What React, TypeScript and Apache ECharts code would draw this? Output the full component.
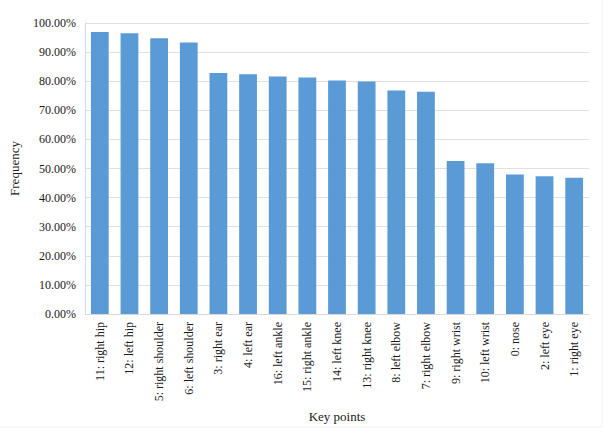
import React, { useEffect, useRef } from "react";
import * as echarts from "echarts";

const categories = [
  "11: right hip", "12: left hip", "5: right shoulder", "6: left shoulder",
  "3: right ear", "4: left ear", "16: left ankle", "15: right ankle",
  "14: left knee", "13: right knee", "8: left elbow", "7: right elbow",
  "9: right wrist", "10: left wrist", "0: nose", "2: left eye", "1: right eye",
];
const frequency = [
  96.9, 96.5, 94.8, 93.3, 82.8, 82.4, 81.6, 81.3, 80.2, 79.9, 76.8, 76.4,
  52.6, 51.8, 47.9, 47.3, 46.8,
];

const FONT = "'Liberation Serif', 'Times New Roman', serif";

export default function App() {
  const ref = useRef<HTMLDivElement>(null);
  useEffect(() => {
    if (!ref.current) return;
    const chart = echarts.init(ref.current, undefined, { renderer: "svg" });
    chart.setOption({
      animation: false,
      backgroundColor: "#ffffff",
      grid: { left: 80, right: 24, top: 23, bottom: 121 },
      graphic: [
        {
          type: "line",
          shape: { x1: 602, y1: 0, x2: 602, y2: 427 },
          style: { stroke: "#f0f0f0", lineWidth: 1 },
          silent: true,
        },
        {
          type: "line",
          shape: { x1: 0, y1: 427, x2: 602, y2: 427 },
          style: { stroke: "#f0f0f0", lineWidth: 1 },
          silent: true,
        },
      ],
      xAxis: {
        type: "category",
        data: categories,
        name: "Key points",
        nameLocation: "middle",
        nameGap: 96,
        nameTextStyle: { fontFamily: FONT, fontSize: 13, color: "#1a1a1a" },
        axisLine: { show: true, lineStyle: { color: "#d9d9d9" } },
        axisTick: { show: false },
        axisLabel: {
          rotate: 90,
          interval: 0,
          margin: 8,
          fontFamily: FONT,
          fontSize: 12,
          color: "#1a1a1a",
        },
      },
      yAxis: {
        type: "value",
        min: 0,
        max: 100,
        interval: 10,
        name: "Frequency",
        nameLocation: "middle",
        nameGap: 64,
        nameTextStyle: { fontFamily: FONT, fontSize: 13, color: "#1a1a1a" },
        axisLine: { show: true, lineStyle: { color: "#d9d9d9" } },
        axisTick: { show: false },
        splitLine: { lineStyle: { color: "#e0e0e0" } },
        axisLabel: {
          formatter: (v: number) => v.toFixed(2) + "%",
          fontFamily: FONT,
          fontSize: 12,
          color: "#1a1a1a",
          margin: 9,
        },
      },
      series: [
        {
          type: "bar",
          data: frequency,
          barWidth: "60%",
          itemStyle: { color: "#5b9bd5" },
        },
      ],
    });
    return () => chart.dispose();
  }, []);
  return (
    <div
      ref={ref}
      style={{ width: 613, height: 435, position: "absolute", left: 0, top: 0 }}
    />
  );
}
